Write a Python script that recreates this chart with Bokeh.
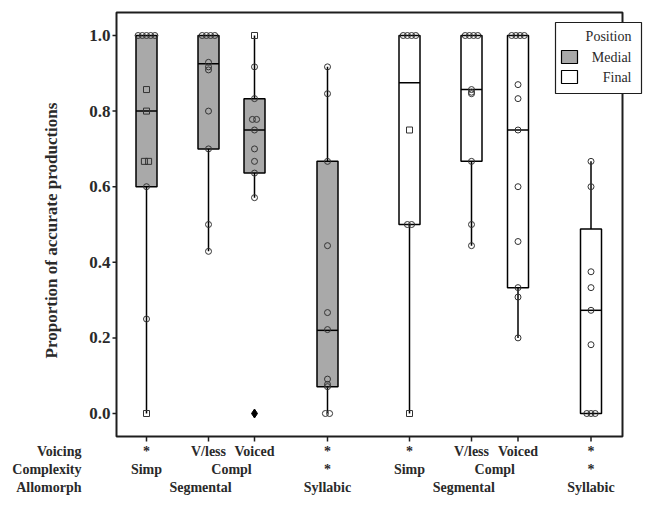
import math
from bokeh.plotting import figure
from bokeh.models import Range1d, ColumnDataSource
from bokeh.core.properties import value
from bokeh.embed import file_html
from bokeh.resources import INLINE

# ---------------- data ----------------
position = ["Medial", "Medial", "Medial", "Medial", "Final", "Final", "Final", "Final"]
position_levels = ["Medial", "Final"]
voicing = ["*", "V/less", "Voiced", "*", "*", "V/less", "Voiced", "*"]
# category location on the x scale (units = pixels from the left of the frame)
x_loc = [30, 92, 138, 211, 293, 355, 401.5, 474.5]

# (label, first group index, last group index)
complexity = [("Simp", 0, 0), ("Compl", 1, 2), ("*", 3, 3),
              ("Simp", 4, 4), ("Compl", 5, 6), ("*", 7, 7)]
allomorph = [("Segmental", 0, 2), ("Syllabic", 3, 3),
             ("Segmental", 4, 6), ("Syllabic", 7, 7)]
row_names = ["Voicing", "Complexity", "Allomorph"]

q1 = [0.60, 0.70, 0.636, 0.071, 0.50, 0.667, 0.333, 0.00]
median = [0.80, 0.925, 0.75, 0.22, 0.875, 0.857, 0.75, 0.273]
q3 = [1.00, 1.00, 0.833, 0.667, 1.00, 1.00, 1.00, 0.488]
whisker_low = [0.00, 0.429, 0.571, 0.00, 0.00, 0.444, 0.20, 0.00]
whisker_high = [1.00, 1.00, 1.00, 0.917, 1.00, 1.00, 1.00, 0.667]

points = [
    [1, 1, 1, 1, 1, 0.857, 0.8, 0.667, 0.667, 0.6, 0.25, 0.0],
    [1, 1, 1, 1, 0.929, 0.917, 0.909, 0.8, 0.7, 0.5, 0.429],
    [1.0, 0.917, 0.833, 0.778, 0.778, 0.75, 0.7, 0.667, 0.636, 0.571],
    [0.917, 0.846, 0.667, 0.444, 0.267, 0.222, 0.091, 0.077, 0.071, 0.0, 0.0],
    [1, 1, 1, 1, 0.75, 0.5, 0.5, 0.0],
    [1, 1, 1, 1, 0.857, 0.85, 0.846, 0.667, 0.5, 0.444],
    [1, 1, 1, 1, 0.87, 0.833, 0.75, 0.6, 0.455, 0.333, 0.308, 0.2],
    [0.667, 0.6, 0.375, 0.333, 0.273, 0.182, 0.0, 0.0, 0.0],
]
outliers = [[], [], [0.0], [], [], [], [], []]

y_ticks = [0.0, 0.2, 0.4, 0.6, 0.8, 1.0]
y_title = "Proportion of accurate productions"
legend_title = "Position"

# marker style: points drawn as squares (group, value); all others are circles
square_marks = [(0, 0.857), (0, 0.8), (0, 0.667), (0, 0.0), (2, 1.0),
                (4, 0.75), (4, 0.0)]

# ---------------- layout (pixels) ----------------
W, H = 651, 507
BOX_L, BOX_R, BOX_T, BOX_B = 116, 622, 12, 436   # plotting box in pixels
PX0 = 413            # pixel row of value 0.0
PPU = 378.0          # pixels per unit of proportion


def dx(px):
    return px - BOX_L


def dy(py):
    return (PX0 - py) / PPU


p = figure(width=W, height=H, output_backend="svg", toolbar_location=None,
           x_range=Range1d(dx(0), dx(W)), y_range=Range1d(dy(H), dy(0)),
           x_axis_location=None, y_axis_location=None, min_border=0)
p.xgrid.visible = False
p.ygrid.visible = False
p.outline_line_color = None
p.background_fill_color = "white"
p.border_fill_color = "white"

SERIF = "Liberation Serif"
TXT = "#2a2a2a"
LINE = "#1e1e1e"

Y0, Y1 = dy(BOX_B), dy(BOX_T)
XL, XR = dx(BOX_L), dx(BOX_R)

# ---------------- y axis ----------------
p.segment(x0=[XL - 4] * len(y_ticks), y0=y_ticks, x1=[XL] * len(y_ticks), y1=y_ticks,
          line_color=LINE, line_width=1.5)
p.text(x=[XL - 6] * len(y_ticks), y=y_ticks, text=[f"{t:.1f}" for t in y_ticks],
       text_align="right", text_baseline="middle", text_font=value(SERIF),
       text_font_style="bold", text_font_size=value("17px"), text_color=TXT)
p.text(x=[dx(51)], y=[dy(230)], text=[y_title], angle=math.pi / 2,
       text_align="center", text_baseline="middle", text_font=value(SERIF),
       text_font_style="bold", text_font_size=value("17px"), text_color=TXT)

# ---------------- x axis ticks & category rows ----------------
p.segment(x0=x_loc, y0=[Y0] * len(x_loc), x1=x_loc, y1=[dy(BOX_B + 5)] * len(x_loc),
          line_color=LINE, line_width=1.5)

row_py = [451, 469, 487]
txt_kw = dict(text_baseline="middle", text_font=value(SERIF), text_font_style="bold",
              text_font_size=value("14px"), text_color=TXT)
p.text(x=[dx(81)] * 3, y=[dy(v) for v in row_py], text=row_names,
       text_align="right", **txt_kw)
p.text(x=x_loc, y=[dy(row_py[0])] * len(x_loc), text=voicing,
       text_align="center", **txt_kw)
for row, py in ((complexity, row_py[1]), (allomorph, row_py[2])):
    p.text(x=[(x_loc[a] + x_loc[b]) / 2 for _, a, b in row],
           y=[dy(py)] * len(row), text=[t for t, _, _ in row],
           text_align="center", **txt_kw)

# ---------------- boxes ----------------
BOX_W = 21
fills = {"Medial": "#a9a9a9", "Final": "white"}
box_src = ColumnDataSource(dict(x=x_loc, q1=q1, q3=q3, med=median,
                                lo=whisker_low, hi=whisker_high,
                                fill=[fills[s] for s in position],
                                left=[x - BOX_W / 2 for x in x_loc],
                                right=[x + BOX_W / 2 for x in x_loc]))

p.segment(x0="x", y0="lo", x1="x", y1="q1", source=box_src,
          line_color="black", line_width=1.5)
p.segment(x0="x", y0="q3", x1="x", y1="hi", source=box_src,
          line_color="black", line_width=1.5)
p.quad(left="left", right="right", bottom="q1", top="q3", source=box_src,
       fill_color="fill", line_color="black", line_width=1.5)
p.segment(x0="left", y0="med", x1="right", y1="med", source=box_src,
          line_color="black", line_width=1.5)

# ---------------- points ----------------
def spread(vals, step=4.2):
    offs = []
    for i, v in enumerate(vals):
        same = [j for j, w in enumerate(vals) if abs(w - v) < 1e-9]
        k = same.index(i)
        n = len(same)
        offs.append((k - (n - 1) / 2) * step)
    return offs


pts = dict(x=[], y=[], marker=[])
for g, vals in enumerate(points):
    for v, o in zip(vals, spread(vals)):
        pts["x"].append(x_loc[g] + o)
        pts["y"].append(v)
        pts["marker"].append("square" if (g, v) in square_marks else "circle")
p.scatter(x="x", y="y", marker="marker", source=ColumnDataSource(pts), size=6,
          fill_color=None, line_color="#333333", line_width=1)

ox, oy = [], []
for g, vals in enumerate(outliers):
    for v in vals:
        ox.append(x_loc[g])
        oy.append(v)
p.scatter(ox, oy, marker="diamond", size=9, fill_color="black", line_color="black")

# ---------------- plotting box border ----------------
p.quad(left=[XL], right=[XR], bottom=[Y0], top=[Y1], fill_color=None,
       line_color=LINE, line_width=2)

# ---------------- legend ----------------
p.quad(left=[dx(555)], right=[dx(641)], bottom=[dy(93)], top=[dy(22)],
       fill_color="white", line_color=LINE, line_width=1.2)
sw_top = [50, 70]
p.quad(left=[dx(561)] * 2, right=[dx(577)] * 2,
       top=[dy(t) for t in sw_top], bottom=[dy(t + 13) for t in sw_top],
       fill_color=[fills[s] for s in position_levels], line_color="black", line_width=1.2)
p.text(x=[dx(631)] * 3, y=[dy(36), dy(57), dy(77)],
       text=[legend_title] + position_levels, text_align="right",
       text_baseline="middle", text_font=value(SERIF), text_font_size=value("14px"),
       text_color=TXT)

open("out.html", "w").write(file_html(p, INLINE))
